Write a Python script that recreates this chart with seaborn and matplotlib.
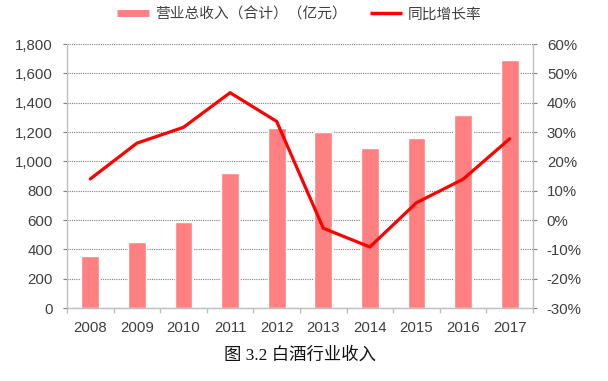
import numpy as np
import pandas as pd
import matplotlib
matplotlib.use("Agg")
import matplotlib.pyplot as plt
from matplotlib.lines import Line2D
from matplotlib.ticker import FuncFormatter, FixedLocator
import seaborn as sns

years = ["2008", "2009", "2010", "2011", "2012", "2013", "2014", "2015", "2016", "2017"]
revenue = [352, 450, 585, 918, 1230, 1198, 1092, 1157, 1315, 1688]
growth = [14.0, 26.2, 31.6, 43.4, 33.6, -2.8, -9.2, 5.9, 13.9, 27.7]
bar_label = "营业总收入（合计）（亿元）"
line_label = "同比增长率"
caption = "图 3.2 白酒行业收入"

sns.set_style("white")
plt.rcParams["font.family"] = ["Liberation Sans", "Noto Sans CJK SC", "DejaVu Sans"]

bar_color = "#FF8080"
line_color = "#FF0000"
text_color = "#404040"
spine_color = "#BFBFBF"
fs = 10.8

fig = plt.figure(figsize=(6.08, 3.81), dpi=100)
ax = fig.add_axes([0.1102, 0.1916, 0.7664, 0.6929])

df = pd.DataFrame({"year": years, "revenue": revenue, "growth": growth})
sns.barplot(data=df, x="year", y="revenue", color=bar_color, saturation=1,
            width=0.38, ax=ax, zorder=2)
ax.set_ylim(0, 1800)
ax.set_yticks(np.arange(0, 1801, 200))
ax.yaxis.set_major_formatter(FuncFormatter(lambda v, p: f"{int(v):,}"))
ax.set_xlim(-0.5, len(years) - 0.5)
ax.set_xlabel("")
ax.set_ylabel("")
ax.grid(axis="y", linestyle=(0, (1, 1)), color="#7F7F7F", linewidth=0.8, zorder=0)
ax.set_axisbelow(True)

ax2 = ax.twinx()
sns.lineplot(x=np.arange(len(years)), y=df["growth"], ax=ax2, color=line_color,
             linewidth=2.3, zorder=3)
ax2.set_ylim(-30, 60)
ax2.set_yticks(np.arange(-30, 61, 10))
ax2.yaxis.set_major_formatter(FuncFormatter(lambda v, p: f"{int(v)}%"))
ax2.set_ylabel("")
ax2.set_xlim(-0.5, len(years) - 0.5)

for a in (ax, ax2):
    a.spines["top"].set_visible(False)
    for s in ("left", "right", "bottom"):
        a.spines[s].set_color(spine_color)
        a.spines[s].set_linewidth(1.0)

ax.spines["right"].set_visible(False)
ax2.spines["left"].set_visible(False)
ax2.spines["bottom"].set_visible(False)

ax.set_xticks(np.arange(len(years)))
ax.set_xticklabels(years)
ax.xaxis.set_minor_locator(FixedLocator(np.arange(-0.5, len(years), 1)))
ax.tick_params(axis="x", which="major", length=0, pad=9, labelsize=fs, colors=text_color)
ax.tick_params(axis="x", which="minor", length=3.5, width=1, color=spine_color, bottom=True)
ax.tick_params(axis="y", length=3, width=0.8, color="#7F7F7F", labelsize=fs,
               labelcolor=text_color, pad=7, left=True)
ax2.tick_params(axis="y", length=3, width=0.8, color="#7F7F7F", labelsize=fs,
                labelcolor=text_color, pad=7, right=True)
for lab in ax.get_xticklabels():
    lab.set_color(text_color)

handles = [Line2D([0], [0], color=bar_color, linewidth=5, solid_capstyle="butt"),
           Line2D([0], [0], color=line_color, linewidth=2.5, solid_capstyle="butt")]
leg = fig.legend(handles, [bar_label, line_label], loc="center",
                 bbox_to_anchor=(0.492, 0.962), ncol=2, frameon=False,
                 fontsize=10.6, handlelength=2.2, handletextpad=0.35,
                 columnspacing=1.6, labelcolor=text_color)

fig.text(0.494, 0.066, caption, ha="center", va="center", fontsize=12.5,
         color="#111111", family=["Liberation Serif", "Noto Sans CJK SC"])

fig.savefig("out.png", dpi=100, facecolor="white")
